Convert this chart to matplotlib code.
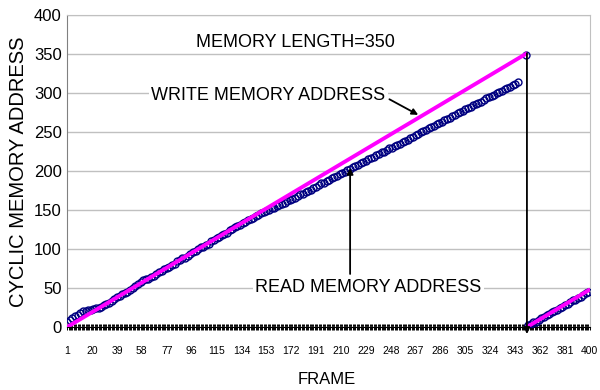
import numpy as np
import matplotlib
matplotlib.use('Agg')
import matplotlib.pyplot as plt

plt.rcParams['font.family'] = ['Liberation Sans', 'DejaVu Sans']

# logged every other frame (1, 3, 5, ... 399)
frames = np.arange(1, 401, 2)

# write pointer, wraps at the memory length
write_addr = [
    0, 2, 4, 6, 8, 10, 12, 14, 16, 18, 20, 22, 24, 26, 28, 30,
    32, 34, 36, 38, 40, 42, 44, 46, 48, 50, 52, 54, 56, 58, 60, 62,
    64, 66, 68, 70, 72, 74, 76, 78, 80, 82, 84, 86, 88, 90, 92, 94,
    96, 98, 100, 102, 104, 106, 108, 110, 112, 114, 116, 118, 120, 122, 124, 126,
    128, 130, 132, 134, 136, 138, 140, 142, 144, 146, 148, 150, 152, 154, 156, 158,
    160, 162, 164, 166, 168, 170, 172, 174, 176, 178, 180, 182, 184, 186, 188, 190,
    192, 194, 196, 198, 200, 202, 204, 206, 208, 210, 212, 214, 216, 218, 220, 222,
    224, 226, 228, 230, 232, 234, 236, 238, 240, 242, 244, 246, 248, 250, 252, 254,
    256, 258, 260, 262, 264, 266, 268, 270, 272, 274, 276, 278, 280, 282, 284, 286,
    288, 290, 292, 294, 296, 298, 300, 302, 304, 306, 308, 310, 312, 314, 316, 318,
    320, 322, 324, 326, 328, 330, 332, 334, 336, 338, 340, 342, 344, 346, 348, 350,
    1, 3, 5, 7, 9, 11, 13, 15, 17, 19, 21, 23,
    25, 27, 29, 31, 33, 35, 37, 39, 41, 43, 45, 47,
]

nan = np.nan
read_addr = [
    # frames 1-25
    6, 9, 12, 14, 16, 18, 20, 21, 22, 22, 23, 24, 25,
    # frames 27-139
    26, 28, 30, 31, 33, 36, 38, 40, 42, 43,
    45, 48, 50, 52, 55, 58, 60, 61, 62, 64,
    66, 68, 70, 72, 74, 76, 77, 79, 81, 84,
    86, 88, 89, 91, 93, 96, 98, 100, 102, 103,
    105, 107, 110, 112, 114, 116, 118, 119, 121, 124,
    126, 128, 129, 131, 133, 135, 137,
    # frames 141-345
    138, 140, 142, 144, 146, 147, 149,
    150, 152, 153, 155, 156, 158, 159, 161, 163,
    164, 166, 168, 170, 171, 173, 175, 176, 178, 180,
    182, 184, 185, 187, 189, 191, 192, 194, 196, 198, 199, 201,
    203, 205, 206, 208, 210, 211, 213, 215, 217, 218, 220, 222, 224,
    225, 227, 229, 230, 232, 233, 235, 237, 238, 240, 242, 244, 246, 248, 250,
    251, 253, 255, 256, 258, 260, 261, 263, 265, 267, 268, 270, 272, 274, 276,
    277, 279, 281, 282, 284, 286, 287, 289, 291, 293, 295, 296, 298, 300,
    301, 303, 305, 306, 308, 310, 312, 314,
    # frames 347-351
    nan, nan, 349,
    # frames 353-399
    2, 4, 6, 7, 9, 11, 13, 15, 17, 19, 21, 22,
    24, 26, 28, 30, 32, 34, 35, 37, 39, 41, 43, 45,
]

x_ticks = [1, 20, 39, 58, 77, 96, 115, 134, 153, 172, 191,
           210, 229, 248, 267, 286, 305, 324, 343, 362, 381, 400]
y_ticks = [0, 50, 100, 150, 200, 250, 300, 350, 400]

fig = plt.figure(figsize=(6, 3.9), dpi=100)
ax = fig.add_axes([0.112, 0.1615, 0.871, 0.8])

w = np.array(write_addr, dtype=float)
r = np.array(read_addr, dtype=float)
brk = np.where(np.diff(w) < 0)[0][0] + 1

ax.plot(frames, r, ls='none', marker='o', ms=5, mfc='none',
        mec='#000080', mew=1.0, zorder=3)
ax.plot(frames[:brk], w[:brk], color='#ff00ff', lw=2.8, zorder=4)
ax.plot(frames[brk:], w[brk:], color='#ff00ff', lw=2.8, zorder=4)

ax.set_xlim(1, 400)
ax.set_ylim(0, 400)
ax.set_xticks(x_ticks)
ax.set_xticks(np.arange(1, 401), minor=True)
ax.set_yticks(y_ticks)
ax.tick_params(axis='x', which='both', direction='inout', length=4,
               width=0.7, color='black', pad=12, labelsize=7.5)
ax.tick_params(axis='y', length=0, pad=4, labelsize=12)

ax.yaxis.grid(True, color='#c0c0c0', lw=1)
ax.set_axisbelow(True)
ax.spines['bottom'].set_color('black')
ax.spines['left'].set_color('#808080')
ax.spines['right'].set_color('#c0c0c0')
ax.spines['top'].set_color('#c0c0c0')

box = dict(fc='white', ec='none', pad=1.5)
ax.text(175, 365, 'MEMORY LENGTH=350', ha='center', va='center',
        fontsize=13, bbox=box)
ax.text(244, 297, 'WRITE MEMORY ADDRESS', ha='right', va='center',
        fontsize=13, bbox=box, zorder=5)
ax.text(231, 51, 'READ MEMORY ADDRESS', ha='center', va='center',
        fontsize=13, bbox=box, zorder=5)

arrow = dict(arrowstyle='-|>', color='black', lw=1.3, mutation_scale=9,
             shrinkA=0, shrinkB=0)
ax.annotate('', xy=(269, 272), xytext=(247, 292), arrowprops=arrow)
ax.annotate('', xy=(217, 204), xytext=(217, 68), arrowprops=arrow)
ax.annotate('', xy=(352, -9), xytext=(352, 351), arrowprops=arrow,
            annotation_clip=False, zorder=6)

fig.text(19 / 600, 1 - 172 / 390, 'CYCLIC MEMORY ADDRESS', rotation=90,
         ha='center', va='center', fontsize=14.5)
fig.text(327 / 600, 1 - 380 / 390, 'FRAME', ha='center', va='center',
         fontsize=12)

fig.savefig('out.png', dpi=100)
